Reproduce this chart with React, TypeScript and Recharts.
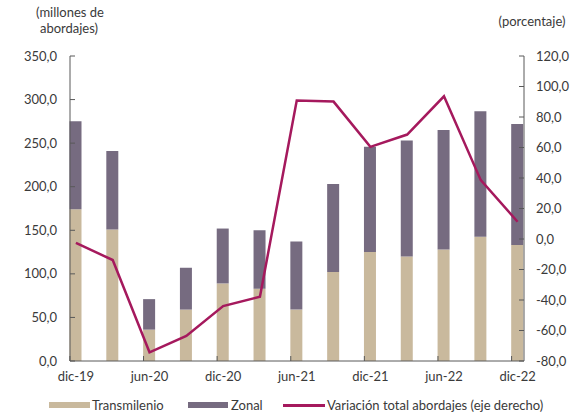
import { ComposedChart, Bar, Line, XAxis, YAxis, Legend } from "recharts";

const categories = ["dic-19", "mar-20", "jun-20", "sep-20", "dic-20", "mar-21", "jun-21", "sep-21", "dic-21", "mar-22", "jun-22", "sep-22", "dic-22"];
const transmilenio = [174, 151, 36, 59, 89, 83, 59, 102, 125, 120, 128, 142.5, 133];
const zonal = [101, 90, 35, 48, 63, 67, 78, 101, 121, 133, 137, 144, 139];
const variacion = [-2.5, -13.8, -74.3, -63.6, -44, -37.9, 90.8, 90.1, 60.4, 68.5, 93.6, 38.6, 11.3];
const leftTicks = [0, 50, 100, 150, 200, 250, 300, 350];
const rightTicks = [-80, -60, -40, -20, 0, 20, 40, 60, 80, 100, 120];

const data = categories.map((c, i) => ({
  label: c,
  transmilenio: transmilenio[i],
  zonal: zonal[i],
  variacion: variacion[i],
}));

const BEIGE = "#C9B99D";
const ZONAL = "#766B80";
const LINE = "#A5195D";
const AXIS = "#595959";
const TEXT = "#3a3a3a";
const FONT = "Lato, sans-serif";

const fmt = (v: number) => v.toFixed(1).replace(".", ",");

const LeftTick = (props: any) => {
  const { x, y, payload } = props;
  return (
    <g>
      <line x1={x} x2={x + 5} y1={y} y2={y} stroke={AXIS} />
      <text x={x - 13} y={y} dy={4.5} textAnchor="end" fontSize={13} fill={TEXT} fontFamily={FONT}>
        {fmt(payload.value)}
      </text>
    </g>
  );
};

const RightTick = (props: any) => {
  const { x, y, payload } = props;
  return (
    <g>
      <line x1={x - 5} x2={x} y1={y} y2={y} stroke={AXIS} />
      <text x={x + 12} y={y} dy={4.5} textAnchor="start" fontSize={13} fill={TEXT} fontFamily={FONT}>
        {fmt(payload.value)}
      </text>
    </g>
  );
};

const BottomTick = (props: any) => {
  const { x, y, payload } = props;
  return (
    <g>
      <line x1={x - 6} x2={x - 6} y1={y - 5} y2={y} stroke={AXIS} />
      <text x={x} y={y + 20} textAnchor="middle" fontSize={13} fill={TEXT} fontFamily={FONT}>
        {payload.value}
      </text>
    </g>
  );
};

const renderLegend = () => (
  <div style={{ position: "relative", width: 571, height: 16, fontFamily: FONT, fontSize: 13, color: TEXT }}>
    <div style={{ position: "absolute", left: 49, top: 5, width: 41, height: 6, background: BEIGE }} />
    <span style={{ position: "absolute", left: 92, top: 0, lineHeight: "16px" }}>Transmilenio</span>
    <div style={{ position: "absolute", left: 188, top: 5, width: 40, height: 6, background: ZONAL }} />
    <span style={{ position: "absolute", left: 231, top: 0, lineHeight: "16px" }}>Zonal</span>
    <div style={{ position: "absolute", left: 283, top: 7, width: 42, height: 2.5, background: LINE }} />
    <span style={{ position: "absolute", left: 327, top: 0, lineHeight: "16px" }}>Variación total abordajes (eje derecho)</span>
  </div>
);

export default function App() {
  return (
    <div style={{ position: "absolute", left: 0, top: 0, background: "#fff" }}>
      <ComposedChart
        width={571}
        height={413}
        data={data}
        margin={{ top: 56, right: 7, bottom: 6, left: 10 }}
      >
        <text x={70} y={17} textAnchor="middle" fontSize={13} fill={TEXT} fontFamily={FONT}>
          (millones de
        </text>
        <text x={69} y={33} textAnchor="middle" fontSize={13} fill={TEXT} fontFamily={FONT}>
          abordajes)
        </text>
        <text x={532} y={26} textAnchor="middle" fontSize={13} fill={TEXT} fontFamily={FONT}>
          (porcentaje)
        </text>
        <XAxis
          dataKey="label"
          interval={1}
          padding={{ left: -12.5, right: -12 }}
          height={30}
          tickSize={0}
          tickMargin={0}
          tickLine={false}
          axisLine={{ stroke: AXIS }}
          tick={<BottomTick />}
        />
        <YAxis
          yAxisId="left"
          orientation="left"
          width={60}
          domain={[0, 350]}
          ticks={leftTicks}
          interval={0}
          tickSize={0}
          tickMargin={0}
          tickLine={false}
          axisLine={{ stroke: AXIS }}
          tick={<LeftTick />}
        />
        <YAxis
          yAxisId="right"
          orientation="right"
          width={40}
          domain={[-80, 120]}
          ticks={rightTicks}
          interval={0}
          tickSize={0}
          tickMargin={0}
          tickLine={false}
          axisLine={{ stroke: AXIS }}
          tick={<RightTick />}
        />
        <Bar yAxisId="left" dataKey="transmilenio" stackId="a" fill={BEIGE} barSize={12} isAnimationActive={false} />
        <Bar yAxisId="left" dataKey="zonal" stackId="a" fill={ZONAL} barSize={12} isAnimationActive={false} />
        <Line
          yAxisId="right"
          dataKey="variacion"
          type="linear"
          stroke={LINE}
          strokeWidth={2.5}
          dot={false}
          activeDot={false}
          isAnimationActive={false}
        />
        <Legend
          content={renderLegend}
          wrapperStyle={{ left: 0, top: 397, bottom: "auto", width: 571 }}
        />
      </ComposedChart>
    </div>
  );
}
